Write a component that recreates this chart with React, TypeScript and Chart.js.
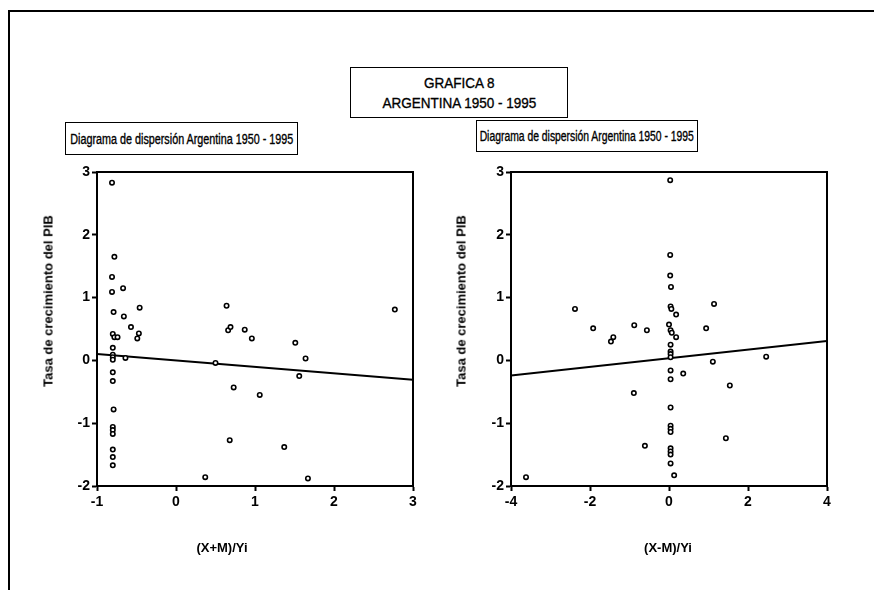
import React, { useEffect, useRef } from "react";
import { Chart, registerables } from "chart.js";

Chart.register(...registerables);

// ---- Data ----
const titleLines = ["GRAFICA 8", "ARGENTINA 1950 - 1995"];
const panelTitle = "Diagrama de dispersión Argentina 1950 - 1995";
const yAxisTitle = "Tasa de crecimiento del PIB";
const leftXTitle = "(X+M)/Yi";
const rightXTitle = "(X-M)/Yi";

const yTicks = [-2, -1, 0, 1, 2, 3];
const leftXTicks = [-1, 0, 1, 2, 3];
const rightXTicks = [-4, -2, 0, 2, 4];

const leftX = [
  -0.81, -0.78, -0.81, -0.81, -0.67, -0.46, 0.64, -0.79, -0.66, -0.57, -0.47,
  -0.49, -0.8, -0.78, -0.74, -0.8, -0.8, -0.8, -0.8, -0.64, -0.8, -0.8, -0.79,
  -0.8, -0.8, -0.8, -0.8, -0.8, -0.8, 2.77, 0.66, 0.69, 0.87, 0.96, 1.51, 1.64,
  0.5, 1.56, 0.73, 1.06, 0.68, 1.37, 0.37, 1.67,
];
const leftY = [
  2.83, 1.65, 1.33, 1.09, 1.15, 0.84, 0.87, 0.77, 0.7, 0.53, 0.43, 0.35, 0.42,
  0.37, 0.37, 0.2, 0.09, 0.05, 0.01, 0.04, -0.19, -0.33, -0.78, -1.06, -1.11,
  -1.17, -1.42, -1.54, -1.67, 0.81, 0.48, 0.53, 0.49, 0.35, 0.28, 0.03, -0.04,
  -0.25, -0.43, -0.55, -1.27, -1.38, -1.86, -1.88,
];

const rightX = [
  -2.38, -1.92, -1.41, -1.47, -0.88, -0.56, -0.89, -0.61, -3.62, 0.03, 0.03,
  0.03, 0.05, 0.04, 0.06, 0.18, 1.14, 0.0, 0.04, 0.07, 0.18, 0.94, 0.04, 0.04,
  0.04, 0.04, 2.46, 1.11, 0.04, 0.36, 0.04, 1.54, 0.04, 0.04, 0.04, 0.04, 1.44,
  0.04, 0.04, 0.04, 0.04, 0.13,
];
const rightY = [
  0.82, 0.51, 0.37, 0.3, 0.56, 0.48, -0.52, -1.36, -1.86, 2.87, 1.68, 1.35,
  1.17, 0.86, 0.82, 0.73, 0.9, 0.57, 0.48, 0.44, 0.37, 0.51, 0.25, 0.14, 0.1,
  0.05, 0.06, -0.02, -0.16, -0.21, -0.3, -0.4, -0.75, -1.04, -1.09, -1.14,
  -1.24, -1.4, -1.45, -1.5, -1.64, -1.83,
];

const leftFitX = [-1, 3];
const leftFitY = [0.1, -0.31];
const rightFitX = [-4, 4];
const rightFitY = [-0.24, 0.31];

const FONT = "'Liberation Sans', Arial, sans-serif";

const framePlugin = {
  id: "plotFrame",
  afterDatasetsDraw(chart: any) {
    const { ctx, chartArea: a } = chart;
    ctx.save();
    ctx.strokeStyle = "#000";
    ctx.lineWidth = 2;
    ctx.strokeRect(a.left, a.top, a.right - a.left, a.bottom - a.top);
    ctx.restore();
  },
};

type PanelProps = {
  left: number;
  xs: number[];
  ys: number[];
  fitX: number[];
  fitY: number[];
  xTicks: number[];
};

function Panel({ left, xs, ys, fitX, fitY, xTicks }: PanelProps) {
  const ref = useRef<HTMLCanvasElement | null>(null);
  useEffect(() => {
    if (!ref.current) return;
    const pts = xs.map((x, i) => ({ x, y: ys[i] }));
    const fit = fitX.map((x, i) => ({ x, y: fitY[i] }));
    const tickFont = { family: FONT, size: 14, weight: "bold" as const };
    const chart = new Chart(ref.current, {
      type: "scatter",
      data: {
        datasets: [
          {
            data: fit,
            showLine: true,
            borderColor: "#000",
            borderWidth: 2,
            pointRadius: 0,
            order: 2,
          },
          {
            data: pts,
            pointStyle: "circle",
            pointRadius: 2.2,
            pointBorderWidth: 1.6,
            pointBackgroundColor: "#fff",
            pointBorderColor: "#000",
            order: 1,
          },
        ],
      },
      options: {
        animation: false,
        responsive: false,
        maintainAspectRatio: false,
        layout: { padding: { top: 12, right: 27, left: 0, bottom: 0 } },
        plugins: {
          legend: { display: false },
          tooltip: { enabled: false },
          title: { display: false },
        },
        scales: {
          x: {
            type: "linear",
            min: xTicks[0],
            max: xTicks[xTicks.length - 1],
            afterBuildTicks: (s: any) => {
              s.ticks = xTicks.map((v) => ({ value: v }));
            },
            afterFit: (s: any) => {
              s.height = 74;
            },
            grid: {
              drawOnChartArea: false,
              drawTicks: true,
              tickLength: 5,
              tickWidth: 2,
              tickColor: "#000",
              color: "#000",
            },
            border: { display: true, color: "#000", width: 2 },
            ticks: { color: "#000", font: tickFont, padding: 3 },
          },
          y: {
            type: "linear",
            min: yTicks[0],
            max: yTicks[yTicks.length - 1],
            afterBuildTicks: (s: any) => {
              s.ticks = yTicks.map((v) => ({ value: v }));
            },
            afterFit: (s: any) => {
              s.width = 77;
            },
            grid: {
              drawOnChartArea: false,
              drawTicks: true,
              tickLength: 5,
              tickWidth: 2,
              tickColor: "#000",
              color: "#000",
            },
            border: { display: true, color: "#000", width: 2 },
            ticks: { color: "#000", font: tickFont, padding: 2 },
          },
        },
      },
      plugins: [framePlugin],
    });
    return () => chart.destroy();
  }, []);
  return (
    <canvas
      ref={ref}
      width={420}
      height={400}
      style={{ position: "absolute", left, top: 160, width: 420, height: 400 }}
    />
  );
}

const boxStyle: React.CSSProperties = {
  position: "absolute",
  border: "1.5px solid #000",
  boxSizing: "border-box",
  display: "flex",
  alignItems: "center",
  justifyContent: "center",
  background: "#fff",
  color: "#000",
  whiteSpace: "nowrap",
  fontFamily: FONT,
};

const narrowSpan: React.CSSProperties = {
  display: "inline-block",
  transform: "scaleX(0.77)",
  transformOrigin: "center",
  WebkitTextStroke: "0.35px #000",
};

const axisTitle: React.CSSProperties = {
  position: "absolute",
  fontFamily: FONT,
  fontWeight: "bold",
  fontSize: 13,
  color: "#000",
  whiteSpace: "nowrap",
  transform: "translate(-50%, -50%)",
};

export default function App() {
  return (
    <div
      style={{
        position: "absolute",
        left: 0,
        top: 0,
        width: 874,
        height: 590,
        background: "#fff",
        overflow: "hidden",
      }}
    >
      {/* outer frame (top and left edges) */}
      <div style={{ position: "absolute", left: 8, top: 10, width: 866, height: 2, background: "#000" }} />
      <div style={{ position: "absolute", left: 8, top: 10, width: 2, height: 580, background: "#000" }} />

      {/* main title box */}
      <div
        style={{
          ...boxStyle,
          left: 350,
          top: 67,
          width: 218,
          height: 51,
          flexDirection: "column",
          fontSize: 15,
          lineHeight: "20px",
        }}
      >
        {titleLines.map((t) => (
          <span key={t} style={{ ...narrowSpan, transform: "scaleX(0.9)" }}>
            {t}
          </span>
        ))}
      </div>

      {/* panel title boxes */}
      <div style={{ ...boxStyle, left: 65, top: 122, width: 233, height: 33, fontSize: 14 }}>
        <span style={narrowSpan}>{panelTitle}</span>
      </div>
      <div style={{ ...boxStyle, left: 476, top: 120, width: 222, height: 32, fontSize: 14 }}>
        <span style={{ ...narrowSpan, transform: "scaleX(0.74)" }}>{panelTitle}</span>
      </div>

      <Panel left={20} xs={leftX} ys={leftY} fitX={leftFitX} fitY={leftFitY} xTicks={leftXTicks} />
      <Panel left={434} xs={rightX} ys={rightY} fitX={rightFitX} fitY={rightFitY} xTicks={rightXTicks} />

      {/* axis titles */}
      <div style={{ ...axisTitle, left: 48, top: 301, transform: "translate(-50%, -50%) rotate(-90deg)" }}>
        {yAxisTitle}
      </div>
      <div style={{ ...axisTitle, left: 461, top: 301, transform: "translate(-50%, -50%) rotate(-90deg)" }}>
        {yAxisTitle}
      </div>
      <div style={{ ...axisTitle, left: 222, top: 547 }}>{leftXTitle}</div>
      <div style={{ ...axisTitle, left: 668, top: 547 }}>{rightXTitle}</div>
    </div>
  );
}
